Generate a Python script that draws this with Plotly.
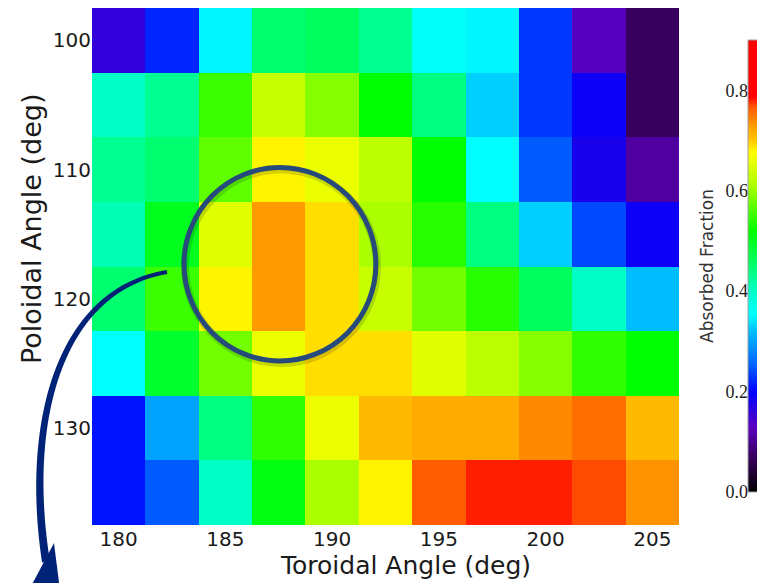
import numpy as np
import plotly.graph_objects as go

# ---------------- data ----------------
toroidal_angle = [180, 182.5, 185, 187.5, 190, 192.5, 195, 197.5, 200, 202.5, 205]
poloidal_angle = [100, 105, 110, 115, 120, 125, 130, 135]

row_100 = [0.16, 0.22, 0.35, 0.45, 0.46, 0.43, 0.36, 0.35, 0.23, 0.13, 0.07]
row_105 = [0.40, 0.43, 0.55, 0.63, 0.59, 0.52, 0.44, 0.33, 0.23, 0.19, 0.07]
row_110 = [0.43, 0.45, 0.57, 0.68, 0.66, 0.62, 0.52, 0.355, 0.25, 0.18, 0.11]
row_115 = [0.41, 0.50, 0.65, 0.73, 0.69, 0.61, 0.54, 0.44, 0.33, 0.24, 0.19]
row_120 = [0.45, 0.55, 0.68, 0.73, 0.69, 0.63, 0.58, 0.54, 0.46, 0.40, 0.32]
row_125 = [0.355, 0.49, 0.58, 0.66, 0.69, 0.69, 0.65, 0.62, 0.59, 0.545, 0.52]
row_130 = [0.21, 0.30, 0.44, 0.545, 0.66, 0.71, 0.72, 0.72, 0.74, 0.755, 0.71]
row_135 = [0.21, 0.25, 0.40, 0.51, 0.61, 0.68, 0.765, 0.78, 0.78, 0.77, 0.735]

absorbed_fraction = [row_100, row_105, row_110, row_115, row_120, row_125, row_130, row_135]

x_ticks = [180, 185, 190, 195, 200, 205]
y_ticks = [100, 110, 120, 130]
cbar_ticks = [0.0, 0.2, 0.4, 0.6, 0.8]
z_min, z_max = 0.0, 0.9

# ---------------- styling ----------------
# the page body has an 8px margin, so the figure is 8px smaller than the window
OFF = 8
W, H = 765 - OFF, 583 - OFF
ML, MR, MT, MB = 92 - OFF, 0, 0, 58
PW, PH = W - ML - MR, H - MT - MB
PLOT_RIGHT = 679  # page pixels


def px(xp):  # page pixel x -> paper
    return (xp - OFF - ML) / PW


def py(yp):  # page pixel y -> paper
    return (H - MB - (yp - OFF)) / PH


colorscale = [
    [0.000, "rgb(0,0,0)"],
    [0.075, "rgb(55,0,90)"],
    [0.142, "rgb(90,0,190)"],
    [0.222, "rgb(0,0,255)"],
    [0.283, "rgb(0,100,255)"],
    [0.356, "rgb(0,190,255)"],
    [0.394, "rgb(0,255,255)"],
    [0.444, "rgb(0,255,200)"],
    [0.506, "rgb(0,255,100)"],
    [0.578, "rgb(0,255,0)"],
    [0.683, "rgb(180,255,0)"],
    [0.750, "rgb(255,255,0)"],
    [0.778, "rgb(255,200,0)"],
    [0.808, "rgb(255,160,0)"],
    [0.852, "rgb(255,90,0)"],
    [0.874, "rgb(255,0,0)"],
    [1.000, "rgb(255,0,0)"],
]

SANS = "DejaVu Sans"
SERIF = "Liberation Serif"

cb_top, cb_bot, cb_left = 40, 492, 748  # page pixels

fig = go.Figure()
fig.add_trace(go.Heatmap(
    x=toroidal_angle, y=poloidal_angle, z=absorbed_fraction,
    zmin=z_min, zmax=z_max, colorscale=colorscale, zsmooth=False,
    colorbar=dict(
        x=px(cb_left), xanchor="left", thickness=26, thicknessmode="pixels",
        y=py((cb_top + cb_bot) / 2), yanchor="middle",
        len=(cb_bot - cb_top) / PH, lenmode="fraction", ypad=0, xpad=0,
        outlinewidth=1, outlinecolor="#a0a0a0",
        showticklabels=False, ticks="",
    ),
))
# empty trace so the colour-scale label axis is drawn
fig.add_trace(go.Scatter(x=[], y=[], yaxis="y2", showlegend=False, hoverinfo="skip"))

# ---------------- decorations ----------------
shapes = []
shapes.append(dict(type="circle", xref="x", yref="y",
                   x0=183.11, x1=192.10, y0=110.0, y1=124.97,
                   line=dict(color="rgba(0,0,0,0.15)", width=8), layer="above"))
shapes.append(dict(type="circle", xref="x", yref="y",
                   x0=183.06, x1=192.05, y0=109.84, y1=124.81,
                   line=dict(color="#274a7c", width=5), layer="above"))

P = np.array([[167, 272], [60, 290], [24, 420], [46, 562]], dtype=float)
t = np.linspace(0, 1, 50)[:, None]
B = ((1 - t) ** 3) * P[0] + 3 * ((1 - t) ** 2) * t * P[1] + 3 * (1 - t) * t ** 2 * P[2] + t ** 3 * P[3]
D = 3 * ((1 - t) ** 2) * (P[1] - P[0]) + 6 * (1 - t) * t * (P[2] - P[1]) + 3 * t ** 2 * (P[3] - P[2])
D = D / np.linalg.norm(D, axis=1, keepdims=True)
N = np.column_stack([-D[:, 1], D[:, 0]])
wdt = (4.0 + 4.0 * t[:, 0])[:, None]
left = B + N * wdt / 2
right = B - N * wdt / 2
pts = np.vstack([left, right[::-1]])
path = "M " + " L ".join(f"{px(a):.5f},{py(b):.5f}" for a, b in pts) + " Z"
shapes.append(dict(type="path", xref="paper", yref="paper", path=path,
                   fillcolor="#002378", line=dict(width=0), layer="above"))
head = [(54, 543), (64, 622), (28, 592)]
hpath = "M " + " L ".join(f"{px(a):.5f},{py(b):.5f}" for a, b in head) + " Z"
shapes.append(dict(type="path", xref="paper", yref="paper", path=hpath,
                   fillcolor="#002378", line=dict(width=0), layer="above"))

annotations = [
    dict(text="Toroidal Angle (deg)", xref="paper", yref="paper",
         x=px(405), y=py(566), xanchor="center", yanchor="middle", showarrow=False,
         font=dict(family=SANS, size=25, color="#1a1a1a")),
    dict(text="Poloidal Angle (deg)", xref="paper", yref="paper",
         x=px(31), y=py(229), xanchor="center", yanchor="middle", showarrow=False,
         textangle=-90, font=dict(family=SANS, size=27, color="#1a1a1a")),
]

fig.update_layout(
    width=W, height=H,
    margin=dict(l=ML, r=MR, t=MT, b=MB, pad=0, autoexpand=False),
    paper_bgcolor="white", plot_bgcolor="rgba(0,0,0,0)",
    showlegend=False,
    xaxis=dict(domain=[0, (PLOT_RIGHT - OFF - ML) / PW], range=[178.75, 206.25],
               tickvals=x_ticks, ticks="", showgrid=False, zeroline=False,
               showline=False, tickfont=dict(family=SANS, size=20, color="#1a1a1a")),
    yaxis=dict(range=[137.5, 97.5], tickvals=y_ticks, ticks="", showgrid=False,
               zeroline=False, showline=False,
               tickfont=dict(family=SANS, size=20, color="#1a1a1a")),
    yaxis2=dict(domain=[py(cb_bot), py(cb_top)], range=[z_min, z_max],
                anchor="free", position=px(cb_left), side="left",
                tickvals=cbar_ticks, tickformat=".1f", ticks="",
                showgrid=False, zeroline=False, showline=False,
                tickfont=dict(family=SERIF, size=18, color="#222222"),
                title=dict(text="Absorbed Fraction", standoff=6,
                           font=dict(family=SANS, size=17, color="#333333"))),
    shapes=shapes,
    annotations=annotations,
)

fig.write_html("out.html")
